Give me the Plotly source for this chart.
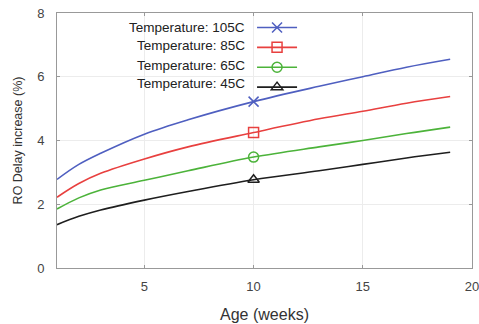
import plotly.graph_objects as go

weeks = [1, 2, 3, 5, 7, 10, 13, 15, 17, 19]
delay_105 = [2.78, 3.25, 3.60, 4.20, 4.65, 5.22, 5.70, 6.00, 6.30, 6.55]
delay_85 = [2.22, 2.65, 2.97, 3.42, 3.80, 4.25, 4.68, 4.92, 5.17, 5.38]
delay_65 = [1.85, 2.20, 2.45, 2.75, 3.05, 3.48, 3.80, 4.00, 4.22, 4.42]
delay_45 = [1.36, 1.62, 1.82, 2.13, 2.40, 2.77, 3.05, 3.25, 3.45, 3.63]
marker_week = 10
labels = ["Temperature: 105C", "Temperature: 85C", "Temperature: 65C", "Temperature: 45C"]
x_ticks = [5, 10, 15, 20]
y_ticks = [0, 2, 4, 6, 8]

series = [delay_105, delay_85, delay_65, delay_45]
colors = ["#4f5fc0", "#e8403f", "#4cb33a", "#1e1e1e"]
symbols = ["x-thin-open", "square-open", "circle-open", "triangle-up-open"]

fig = go.Figure()
mi = weeks.index(marker_week)
for vals, col, sym in zip(series, colors, symbols):
    fig.add_trace(go.Scatter(x=weeks, y=vals, mode="lines", line=dict(color=col, width=1.6, shape="spline"),
                             showlegend=False, hoverinfo="skip"))
for vals, col, sym, lab in zip(series, colors, symbols, labels):
    fig.add_trace(go.Scatter(x=[weeks[mi]], y=[vals[mi]], mode="lines+markers", name=" ",
                             line=dict(color=col, width=1.6),
                             marker=dict(symbol=sym, size=10, color=col, line=dict(color=col, width=1.5))))

ann_y = [0.945, 0.871, 0.796, 0.722]
for lab, yy in zip(labels, ann_y):
    fig.add_annotation(x=0.458, y=yy, xref="paper", yref="paper", text=lab, showarrow=False,
                       xanchor="right", yanchor="middle", font=dict(size=13.5, color="#222"))

fig.update_layout(
    width=479, height=324,
    margin=dict(l=57, r=7, t=13, b=56),
    paper_bgcolor="white", plot_bgcolor="white",
    font=dict(family="Liberation Sans, Arial, sans-serif", size=13, color="#333"),
    legend=dict(x=0.47, y=1.002, xanchor="left", yanchor="top", bgcolor="rgba(0,0,0,0)",
                font=dict(size=13), itemwidth=40, tracegroupgap=0),
    showlegend=True,
)
fig.update_xaxes(range=[1, 20], tickvals=x_ticks, showgrid=True, gridcolor="#ececec", automargin=False,
                 ticklabeloverflow="allow",
                 showline=True, linecolor="#999", mirror="ticks", ticks="inside", ticklen=3, tickcolor="#999",
                 zeroline=False, ticklabelstandoff=6, title=dict(text="Age (weeks)", standoff=16),
                 tickfont=dict(size=13, color="#444"))
fig.update_yaxes(range=[0, 8], tickvals=y_ticks, showgrid=True, gridcolor="#ececec", automargin=False,
                 showline=True, linecolor="#999", mirror="ticks", ticks="inside", ticklen=3, tickcolor="#999",
                 zeroline=False, ticklabelstandoff=9, title=dict(text="RO Delay increase (%)", standoff=11, font=dict(size=12.5)),
                 tickfont=dict(size=13, color="#444"))

fig.write_html("out.html", config={"displayModeBar": False},
               post_script="document.body.style.margin='0';")
